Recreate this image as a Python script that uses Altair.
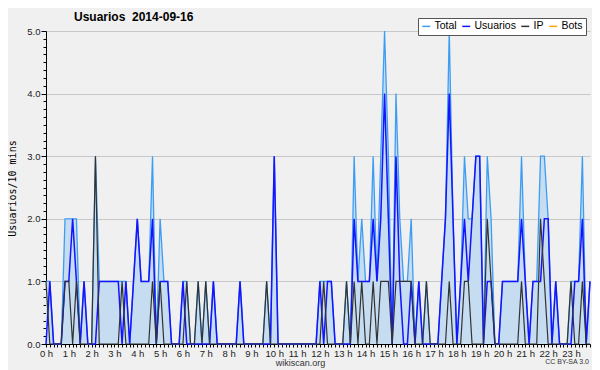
import altair as alt
import pandas as pd

# 10-minute slots over the day (0 .. 23:50)
minutes = [i * 10 for i in range(144)]

usuarios = [
    0, 1, 0, 0, 0, 1, 1, 2, 1, 0,
    1, 0, 0, 0, 1, 1, 1, 1, 1, 1,
    0, 1, 0, 1, 2, 1, 1, 1, 2, 0,
    1, 1, 1, 0, 0, 0, 1, 0, 0, 0,
    0, 0, 0, 0, 1, 0, 0, 0, 0, 0,
    0, 1, 0, 0, 0, 0, 0, 0, 0, 0,
    3, 0, 0, 0, 0, 0, 0, 0, 0, 0,
    0, 0, 1, 0, 1, 1, 0, 0, 0, 0,
    0, 2, 1, 1, 1, 1, 2, 1, 2, 4,
    2, 0, 3, 1, 0, 0, 1, 0, 1, 0,
    0, 0, 0, 0, 1, 2, 4, 2, 0, 1,
    2, 1, 2, 3, 3, 0, 1, 1, 0, 0,
    1, 1, 1, 1, 1, 2, 1, 0, 1, 1,
    1, 2, 2, 0, 1, 0, 0, 0, 0, 1,
    1, 2, 0, 1,
]

ip = [
    1, 0, 0, 0, 0, 1, 1, 0, 1, 0,
    0, 0, 0, 3, 0, 0, 0, 0, 0, 0,
    1, 0, 0, 0, 0, 0, 0, 0, 1, 0,
    1, 0, 0, 0, 0, 0, 0, 1, 0, 0,
    1, 0, 1, 0, 0, 0, 0, 0, 0, 0,
    0, 0, 0, 0, 0, 0, 0, 0, 1, 0,
    0, 0, 0, 0, 0, 0, 0, 0, 0, 0,
    0, 0, 0, 1, 0, 0, 0, 0, 0, 1,
    0, 1, 0, 1, 0, 0, 1, 0, 1, 1,
    1, 0, 1, 1, 1, 1, 1, 0, 0, 0,
    1, 0, 0, 0, 0, 0, 1, 0, 0, 0,
    1, 1, 0, 0, 0, 0, 2, 1, 0, 0,
    0, 0, 0, 0, 0, 1, 0, 0, 0, 0,
    2, 1, 0, 0, 0, 0, 0, 0, 1, 0,
    0, 1, 0, 0,
]

total = [
    1, 1, 0, 0, 0, 2, 2, 2, 2, 0,
    1, 0, 0, 3, 1, 1, 1, 1, 1, 1,
    1, 1, 0, 1, 2, 1, 1, 1, 3, 0,
    2, 1, 1, 0, 0, 0, 1, 1, 0, 0,
    1, 0, 1, 0, 1, 0, 0, 0, 0, 0,
    0, 1, 0, 0, 0, 0, 0, 0, 1, 0,
    3, 0, 0, 0, 0, 0, 0, 0, 0, 0,
    0, 0, 1, 1, 1, 1, 0, 0, 0, 1,
    0, 3, 1, 2, 1, 1, 3, 1, 3, 5,
    3, 0, 4, 2, 1, 1, 2, 0, 1, 0,
    1, 0, 0, 0, 1, 2, 5, 2, 0, 1,
    3, 2, 2, 3, 3, 0, 3, 2, 0, 0,
    1, 1, 1, 1, 1, 3, 1, 0, 1, 1,
    3, 3, 2, 0, 1, 0, 0, 0, 1, 1,
    1, 3, 0, 1,
]

series = ["Total", "Usuarios", "IP", "Bots"]
series_colors = ["#3d9df2", "#1414ff", "#333333", "#ffa500"]
y_ticks = [i * 0.125 for i in range(41)]

df = pd.DataFrame({"min": minutes, "Total": total, "Usuarios": usuarios, "IP": ip})

x_enc = alt.X(
    "min:Q",
    scale=alt.Scale(domain=[0, 1430], nice=False, zero=False),
    axis=alt.Axis(
        values=minutes,
        labelExpr="datum.value % 60 === 0 ? (datum.value / 60) + ' h' : ''",
        labelFlush=False,
        labelOverlap=False,
        labelFont="Liberation Sans",
        labelFontSize=9.5,
        labelColor="#222",
        labelPadding=1,
        tickSize=3,
        tickColor="#000",
        domainColor="#000",
        grid=False,
        title="wikiscan.org",
        titleFont="Liberation Sans",
        titleFontSize=9,
        titleFontWeight="normal",
        titleColor="#333",
        titleX=254,
        titleY=18,
        titleBaseline="middle",
        titleAlign="center",
    ),
)

y_axis = alt.Axis(
    values=y_ticks,
    labelExpr="datum.value % 1 === 0 ? format(datum.value, '.1f') : ''",
    labelOverlap=False,
    labelFont="Liberation Sans",
    labelFontSize=9.5,
    labelColor="#222",
    labelPadding=1,
    tickSize={"condition": {"test": "datum.value % 1 === 0", "value": 5}, "value": 3},
    tickColor="#000",
    domainColor="#000",
    grid=True,
    gridColor="#c8c8c8",
    gridOpacity={"condition": {"test": "datum.value % 1 === 0", "value": 1}, "value": 0},
    title="Usuarios/10 mins",
    titleFont="DejaVu Sans Mono",
    titleFontSize=10,
    titleFontWeight="normal",
    titleColor="#000",
    titleX=-34,
    titleY=157,
    titleAlign="center",
    titleBaseline="middle",
)
y_scale = alt.Scale(domain=[0, 5], nice=False)

color_scale = alt.Scale(domain=series, range=series_colors)
legend = alt.Legend(
    orient="none",
    legendX=372,
    legendY=-13,
    direction="horizontal",
    columns=4,
    title=None,
    symbolType="stroke",
    symbolSize=64,
    symbolStrokeWidth=1.5,
    labelFont="Liberation Sans",
    labelFontSize=10.5,
    labelColor="#000",
    labelOffset=3,
    columnPadding=2,
    padding=3,
    fillColor="#ffffff",
    strokeColor="#555555",
)

base = alt.Chart(df)

area = base.mark_area(color="#c6dcf0", opacity=1).encode(
    x=x_enc, y=alt.Y("Total:Q", scale=y_scale, axis=y_axis)
)


def line(field, width):
    return (
        base.mark_line(strokeWidth=width)
        .transform_calculate(serie=f"'{field}'")
        .encode(
            x=x_enc,
            y=alt.Y(f"{field}:Q", scale=y_scale, axis=y_axis),
            color=alt.Color("serie:N", scale=color_scale, legend=legend),
        )
    )


credit = alt.Chart(pd.DataFrame({"t": ["CC BY-SA 3.0"]})).mark_text(
    font="Liberation Sans", fontSize=7, color="#333", align="right", baseline="middle"
).encode(text="t:N", x=alt.value(543), y=alt.value(331))

chart = (
    alt.layer(area, line("Total", 1.3), line("Usuarios", 1.5), line("IP", 1.2), credit)
    .properties(
        width=544,
        height=313,
        background="#f0f0f0",
        padding={"left": 38, "top": 23, "right": 2, "bottom": 26},
        autosize=alt.AutoSizeParams(type="none"),
        title=alt.TitleParams(
            "Usuarios\u00a0\u00a02014-09-16",
            anchor="start",
            frame="group",
            font="Liberation Sans",
            fontSize=12,
            fontWeight="bold",
            color="#000",
            dx=28,
            dy=10,
            offset=4,
        ),
    )
    .configure_view(stroke=None)
)

chart.save("out.html", embed_options={"renderer": "svg", "actions": False})
